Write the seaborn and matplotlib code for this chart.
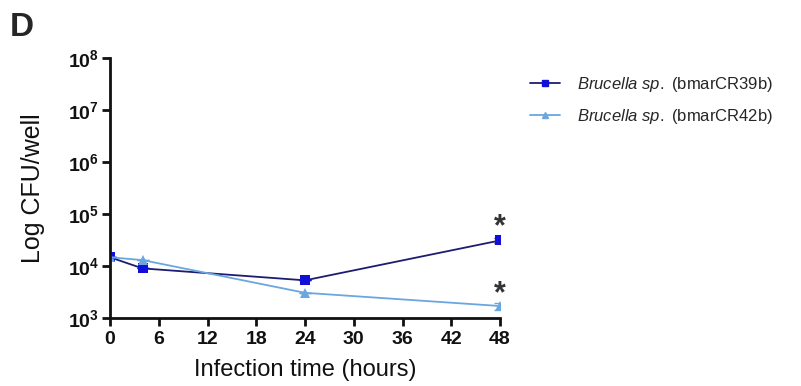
import numpy as np
import pandas as pd
import seaborn as sns
import matplotlib.pyplot as plt
from matplotlib.ticker import FixedLocator, FuncFormatter, NullLocator

sns.set_theme(style='ticks')
plt.rcParams['font.family'] = ['Liberation Sans', 'DejaVu Sans']
plt.rcParams['mathtext.fontset'] = 'custom'
plt.rcParams['mathtext.rm'] = 'Liberation Sans'
plt.rcParams['mathtext.it'] = 'Liberation Sans:italic'
plt.rcParams['mathtext.bf'] = 'Liberation Sans:bold'

# data
hours = [0, 4, 24, 48]
cr39b = [1.47e4, 9.0e3, 5.3e3, 3.1e4]
cr39b_err = [0, 0, 0, 3.0e3]
cr42b = [1.47e4, 1.3e4, 3.05e3, 1.7e3]
cr42b_err = [0, 0, 0, 2.5e2]
names = [r'$\it{Brucella\ sp.}$ (bmarCR39b)', r'$\it{Brucella\ sp.}$ (bmarCR42b)']
colors = ['#1010d8', '#6aa6e0']
line_colors = ['#1c1c70', '#6aa6e0']

df = pd.DataFrame({
    'hours': hours * 2,
    'cfu': cr39b + cr42b,
    'strain': [names[0]] * 4 + [names[1]] * 4,
})

fig = plt.figure(figsize=(8.01, 3.86), dpi=100)
ax = fig.add_axes([110 / 801, 1 - 318 / 386, 390 / 801, 260 / 386])

sns.lineplot(data=df, x='hours', y='cfu', hue='strain', style='strain',
             palette=dict(zip(names, line_colors)), markers=['s', '^'], dashes=False,
             linewidth=1.3, markersize=7, markeredgewidth=0, ax=ax, legend=False)
# recolour markers
for line, c in zip(ax.lines, colors):
    line.set_markerfacecolor(c)
    line.set_markeredgecolor(c)

ax.errorbar(hours, cr39b, yerr=cr39b_err, fmt='none', ecolor=colors[0], capsize=4, elinewidth=1.2)
ax.errorbar(hours, cr42b, yerr=cr42b_err, fmt='none', ecolor=colors[1], capsize=4, elinewidth=1.2)

# significance marks
ax.text(48, 5.6e4, '*', ha='center', va='center', fontsize=22, color='#333333', fontweight='bold')
ax.text(48, 2.9e3, '*', ha='center', va='center', fontsize=22, color='#333333', fontweight='bold')

ax.set_yscale('log')
ax.set_ylim(1e3, 1e8)
ax.set_xlim(0, 48)
ax.yaxis.set_major_locator(FixedLocator([1e3, 1e4, 1e5, 1e6, 1e7, 1e8]))
ax.yaxis.set_minor_locator(NullLocator())
ax.yaxis.set_major_formatter(FuncFormatter(lambda v, p: r'$\mathbf{10^{%d}}$' % round(np.log10(v))))
ax.set_xticks(range(0, 49, 6))
for lab in ax.get_xticklabels():
    lab.set_fontweight('bold')

ax.tick_params(axis='both', width=2, length=6, labelsize=14, color='#111111', labelcolor='#111111')
ax.tick_params(axis='y', pad=2)
for s in ['top', 'right']:
    ax.spines[s].set_visible(False)
for s in ['left', 'bottom']:
    ax.spines[s].set_linewidth(2)
    ax.spines[s].set_color('#111111')

ax.set_xlabel('Infection time (hours)', fontsize=17, labelpad=8, color='#111111')
ax.set_ylabel('Log CFU/well', fontsize=18, labelpad=16, color='#111111')

handles = [plt.Line2D([], [], color=lc, marker=m, markerfacecolor=c, markeredgecolor=c,
                      markersize=5, linewidth=1.3)
           for lc, c, m in zip(line_colors, colors, ['s', '^'])]
fig.legend(handles, names, loc='upper left', bbox_to_anchor=(515 / 801, 1 - 60 / 386),
           frameon=False, fontsize=12, handlelength=1.8, labelspacing=0.75, handletextpad=1.0)

fig.text(10 / 801, 1 - 28 / 386, 'D', fontsize=24, fontweight='bold', va='center', ha='left')

fig.savefig('out.png', dpi=100)
